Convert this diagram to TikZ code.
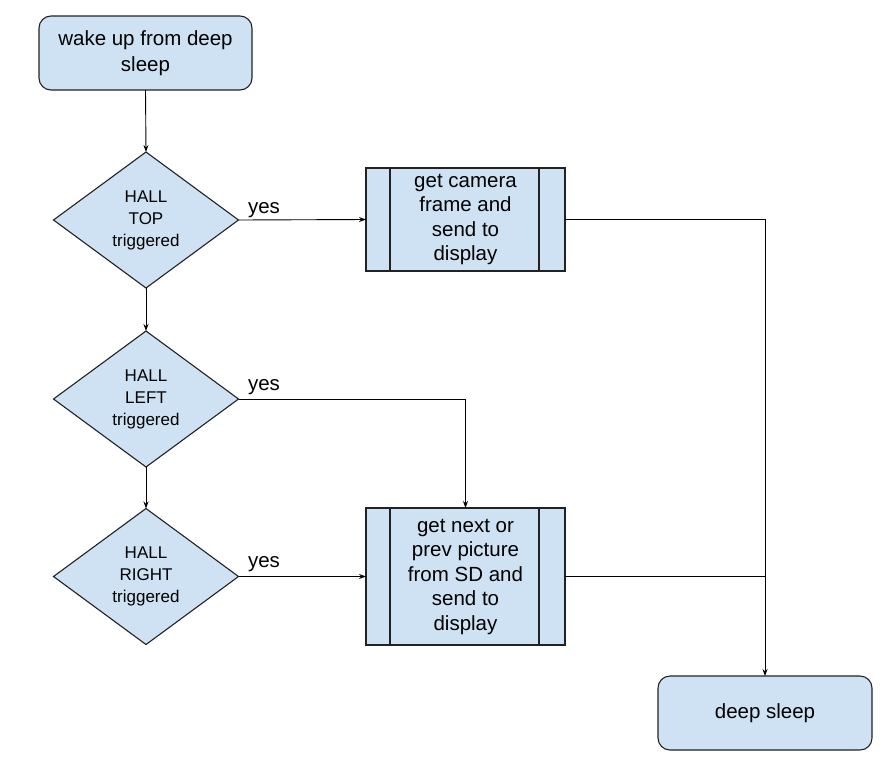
\documentclass[tikz,border=0pt]{standalone}
\usepackage{fontspec}
\setmainfont{Liberation Sans}
\usetikzlibrary{shapes.geometric,arrows.meta,calc}
\definecolor{boxfill}{HTML}{CFE2F3}
\definecolor{boxline}{HTML}{222222}
\begin{document}
\begin{tikzpicture}[x=1pt,y=-1pt,
  every node/.style={inner sep=0pt,outer sep=0pt},
  roundbox/.style={draw=boxline,fill=boxfill,line width=1.1pt,rounded corners=12pt,
    minimum width=213pt,minimum height=74pt,align=center},
  decision/.style={draw=boxline,fill=boxfill,line width=1.1pt,shape=diamond,aspect=1.36,
    minimum width=185pt,minimum height=136pt,align=center,font=\fontsize{17}{22}\selectfont},
  procbox/.style={draw=boxline,fill=boxfill,line width=1.1pt,minimum width=199pt,align=center,
    font=\fontsize{20.5}{24.5}\selectfont},
  conn/.style={draw=black,line width=0.9pt},
  arr/.style={conn,-{Stealth[length=7pt,width=5pt]}},
  yeslbl/.style={anchor=base west,font=\fontsize{20.5}{24}\selectfont}
]
\useasboundingbox (0,0) rectangle (893,769);

\node[roundbox,font=\fontsize{20.5}{26}\selectfont] (start) at (145.5,53) {wake up from deep\\sleep};
\node[decision] (d1) at (146,220) {HALL\\TOP\\triggered};
\node[decision] (d2) at (146,399) {HALL\\LEFT\\triggered};
\node[decision] (d3) at (146,576.5) {HALL\\RIGHT\\triggered};
\node[procbox,minimum height=103pt] (p1) at (465.5,219.5) {get camera\\frame and\\send to\\display};
\node[procbox,minimum height=137pt] (p2) at (465.5,576.5) {get next or\\prev picture\\from SD and\\send to\\display};
\node[roundbox,minimum width=214pt,font=\fontsize{20.5}{24}\selectfont] (ds) at (765,713) {deep sleep};

\foreach \p in {p1,p2}{
  \draw[boxline,line width=1.1pt] ([xshift=24pt]\p.north west) -- ([xshift=24pt]\p.south west);
  \draw[boxline,line width=1.1pt] ([xshift=-26pt]\p.north east) -- ([xshift=-26pt]\p.south east);
}

\draw[arr] (start.south) -- (d1.north);
\draw[arr] (d1.south) -- (d2.north);
\draw[arr] (d2.south) -- (d3.north);
\draw[arr] (d1.east) -- (p1.west);
\draw[arr] (d2.east) -- (p2.north |- d2.east) -- (p2.north);
\draw[arr] (d3.east) -- (p2.west);
\draw[arr] (p1.east) -- (ds.north |- p1.east) -- (ds.north);
\draw[conn] (p2.east) -- (ds.north |- p2.east);

\node[yeslbl] (y1) at (248,213) {yes};
\node[yeslbl] (y2) at (248,390) {yes};
\node[yeslbl] (y3) at (248,567) {yes};
\end{tikzpicture}
\end{document}
